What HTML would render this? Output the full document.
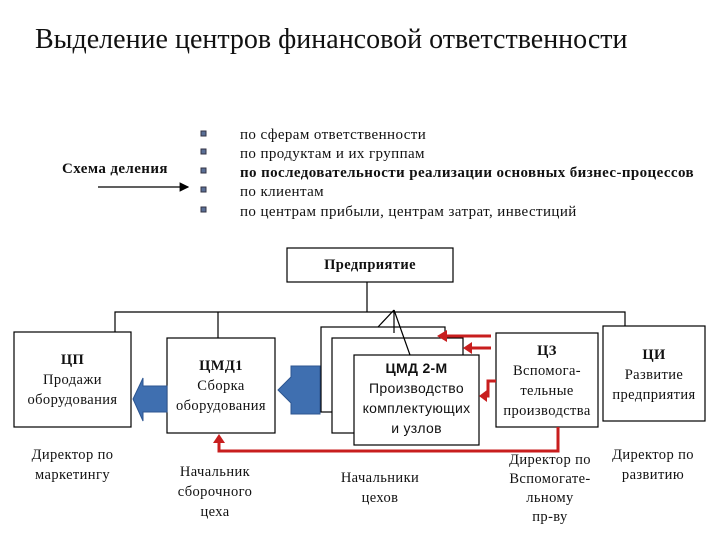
<!DOCTYPE html>
<html><head><meta charset="utf-8"><style>
html,body{margin:0;padding:0;background:#fff}
body{width:720px;height:540px;position:relative;overflow:hidden;font-family:"Liberation Serif",serif;color:#111}
.t{position:absolute;white-space:nowrap;letter-spacing:0.4px}
.c{position:absolute;text-align:center;font-size:14.5px;line-height:20px;letter-spacing:0.4px;white-space:nowrap}
</style></head><body>
<svg width="720" height="540" style="position:absolute;left:0;top:0">
<defs>
<marker id="ar" markerWidth="8" markerHeight="8" refX="7" refY="4" orient="auto"><path d="M0,0 L8,4 L0,8 Z" fill="#000"/></marker>
</defs>
<g fill="#fff" stroke="#000" stroke-width="1.2">
<rect x="287" y="248" width="166" height="34"/>
<rect x="14" y="332" width="117" height="95"/>
<rect x="167" y="338" width="108" height="95"/>
<rect x="321" y="327" width="124" height="85"/>
<rect x="332" y="338" width="131" height="95"/>
<rect x="354" y="355" width="125" height="90"/>
<rect x="496" y="333" width="102" height="94"/>
<rect x="603" y="326" width="102" height="95"/>
</g>
<g stroke="#000" stroke-width="1.2" fill="none">
<line x1="367" y1="282" x2="367" y2="312"/>
<polyline points="115,332 115,312 625,312 625,326"/>
<line x1="218" y1="312" x2="218" y2="338"/>
<line x1="394" y1="310" x2="378" y2="327"/>
<line x1="394" y1="310" x2="394" y2="333"/>
<line x1="394" y1="310" x2="410" y2="355"/>
<line x1="98" y1="187" x2="188" y2="187" marker-end="url(#ar)"/>
</g>
<g fill="#3f6fb0" stroke="#2c5590" stroke-width="1">
<path d="M320,366 L291,366 L291,377 L278,390 L291,403 L291,414 L320,414 Z"/>
<path d="M167,386 L143,386 L143,378 L133,399 L143,421 L143,412 L167,412 Z"/>
</g>
<g stroke="#c81e1e" stroke-width="3" fill="none">
<line x1="491" y1="336" x2="446" y2="336"/>
<line x1="491" y1="348" x2="470" y2="348"/>
<polyline points="496,381 488,381 488,396 482,396"/>
<polyline points="558,427 558,451 219,451 219,442"/>
</g>
<g fill="#c81e1e">
<path d="M437,336 L447,330 L447,342 Z"/>
<path d="M463,348 L472,342 L472,354 Z"/>
<path d="M479,396 L487,390 L487,402 Z"/>
<path d="M219,434 L213,443 L225,443 Z"/>
</g>
<g fill="#5a6f96" stroke="#334">
<rect x="201" y="131" width="5" height="5"/>
<rect x="201" y="149" width="5" height="5"/>
<rect x="201" y="168" width="5" height="5"/>
<rect x="201" y="187" width="5" height="5"/>
<rect x="201" y="207" width="5" height="5"/>
</g>
</svg>
<div class="t" style="left:35px;top:24px;font-size:28px;letter-spacing:0">Выделение центров финансовой ответственности</div>
<div class="t" style="left:62px;top:161px;font-size:15px;font-weight:bold">Схема деления</div>
<div class="t" style="left:240px;top:127px;font-size:15px">по сферам ответственности</div>
<div class="t" style="left:240px;top:146px;font-size:15px">по продуктам и их группам</div>
<div class="t" style="left:240px;top:165px;font-size:15px;font-weight:bold">по последовательности реализации основных бизнес-процессов</div>
<div class="t" style="left:240px;top:184px;font-size:15px">по клиентам</div>
<div class="t" style="left:240px;top:204px;font-size:15px">по центрам прибыли, центрам затрат, инвестиций</div>
<div class="c" style="left:287px;top:255px;width:166px;font-weight:bold">Предприятие</div>
<div class="c" style="left:14px;top:350px;width:117px"><b>ЦП</b><br>Продажи<br>оборудования</div>
<div class="c" style="left:167px;top:356px;width:108px"><b>ЦМД1</b><br>Сборка<br>оборудования</div>
<div class="c" style="left:354px;top:358px;width:125px;font-family:'Liberation Sans',sans-serif;line-height:20px;font-size:14px;letter-spacing:0.3px"><b>ЦМД 2-М</b><br>Производство<br>комплектующих<br>и узлов</div>
<div class="c" style="left:496px;top:341px;width:102px"><b>ЦЗ</b><br>Вспомога-<br>тельные<br>производства</div>
<div class="c" style="left:603px;top:345px;width:102px"><b>ЦИ</b><br>Развитие<br>предприятия</div>
<div class="c" style="left:14px;top:445px;width:117px">Директор по<br>маркетингу</div>
<div class="c" style="left:160px;top:462px;width:110px;line-height:20px">Начальник<br>сборочного<br>цеха</div>
<div class="c" style="left:330px;top:468px;width:100px">Начальники<br>цехов</div>
<div class="c" style="left:495px;top:451px;width:110px;line-height:19px">Директор по<br>Вспомогате-<br>льному<br>пр-ву</div>
<div class="c" style="left:598px;top:445px;width:110px">Директор по<br>развитию</div>
</body></html>
